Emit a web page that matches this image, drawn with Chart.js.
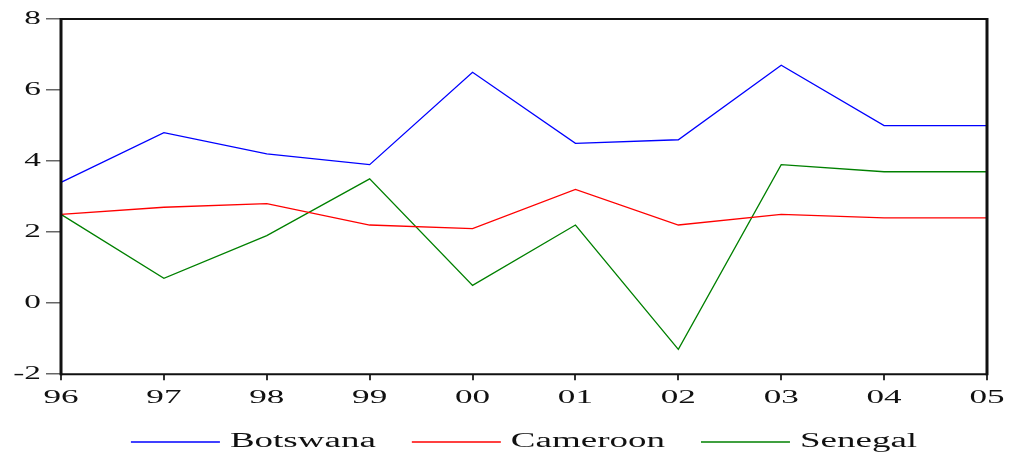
<!DOCTYPE html>
<html>
<head>
<meta charset="utf-8">
<script src="https://cdn.jsdelivr.net/npm/chart.js@4/dist/chart.umd.min.js"></script>
<style>
  html, body { margin: 0; padding: 0; background: #fff; }
  #wrap { width: 1016px; height: 458px; }
</style>
</head>
<body>
<div id="wrap"><canvas id="chart"></canvas></div>
<script>
const years = ["96", "97", "98", "99", "00", "01", "02", "03", "04", "05"];
const botswana = [3.4, 4.8, 4.2, 3.9, 6.5, 4.5, 4.6, 6.7, 5.0, 5.0];
const cameroon = [2.5, 2.7, 2.8, 2.2, 2.1, 3.2, 2.2, 2.5, 2.4, 2.4];
const senegal = [2.5, 0.7, 1.9, 3.5, 0.5, 2.2, -1.3, 3.9, 3.7, 3.7];
const yTicks = [-2, 0, 2, 4, 6, 8];

// the reference text is stretched sideways, so widen every glyph
const SX = 1.85;
const canvas = document.getElementById("chart");
const ctx = canvas.getContext("2d");
const rawFill = ctx.fillText.bind(ctx);
const rawMeasure = ctx.measureText.bind(ctx);
ctx.fillText = function (text, x, y) {
  ctx.save();
  ctx.translate(x, y);
  ctx.scale(SX, 1);
  rawFill(text, 0, 0);
  ctx.restore();
};
ctx.measureText = function (text) {
  const m = rawMeasure(text);
  return {
    width: m.width * SX,
    actualBoundingBoxAscent: m.actualBoundingBoxAscent,
    actualBoundingBoxDescent: m.actualBoundingBoxDescent,
  };
};

const frame = {
  id: "frame",
  afterDraw(chart) {
    const a = chart.chartArea;
    const c = chart.ctx;
    c.save();
    c.strokeStyle = "#111";
    c.lineWidth = 2;
    c.beginPath();
    c.moveTo(a.left, a.top);
    c.lineTo(a.right, a.top);
    c.moveTo(a.left, a.bottom);
    c.lineTo(a.right, a.bottom);
    c.stroke();
    c.lineWidth = 3;
    c.beginPath();
    c.moveTo(a.left, a.top - 1);
    c.lineTo(a.left, a.bottom + 1);
    c.moveTo(a.right, a.top - 1);
    c.lineTo(a.right, a.bottom + 1);
    c.stroke();
    c.restore();
  },
};

function series(label, data, color) {
  return {
    label: label,
    data: data,
    borderColor: color,
    backgroundColor: color,
    borderWidth: 1.3,
    pointRadius: 0,
    pointStyle: "line",
    tension: 0,
  };
}

Chart.defaults.font.family = "'Liberation Serif', 'Times New Roman', serif";
Chart.defaults.color = "#111";

new Chart(ctx, {
  type: "line",
  data: {
    labels: years,
    datasets: [
      series("Botswana", botswana, "#0000ff"),
      series("Cameroon", cameroon, "#ff0000"),
      series("Senegal", senegal, "#008000"),
    ],
  },
  options: {
    responsive: true,
    maintainAspectRatio: false,
    animation: false,
    layout: { padding: { top: 19, right: 29, left: 0, bottom: -4 } },
    plugins: {
      tooltip: { enabled: false },
      legend: {
        position: "bottom",
        fullSize: false,
        labels: {
          usePointStyle: true,
          pointStyle: "line",
          pointStyleWidth: 89,
          padding: 36,
          color: "#111",
          font: { size: 20 },
        },
      },
    },
    scales: {
      x: {
        offset: false,
        afterFit(scale) {
          // squeeze the axis box so the legend sits close; keep labels unclipped
          scale.height -= 19;
          scale._computeLabelArea = () => undefined;
        },
        border: { display: false },
        grid: {
          offset: false,
          drawOnChartArea: false,
          drawTicks: true,
          tickLength: 6,
          color: "#333",
          lineWidth: 2,
        },
        ticks: { font: { size: 19 }, padding: 6, maxRotation: 0, autoSkip: false },
      },
      y: {
        min: -2,
        max: 8,
        afterFit(scale) {
          scale.width = 61;
        },
        afterBuildTicks(scale) {
          scale.ticks = yTicks.map((v) => ({ value: v }));
        },
        border: { display: false },
        grid: {
          drawOnChartArea: false,
          drawTicks: true,
          tickLength: 15,
          color: "#666",
          lineWidth: 1.5,
        },
        ticks: { font: { size: 18 }, padding: 5 },
      },
    },
  },
  plugins: [frame],
});
</script>
</body>
</html>
